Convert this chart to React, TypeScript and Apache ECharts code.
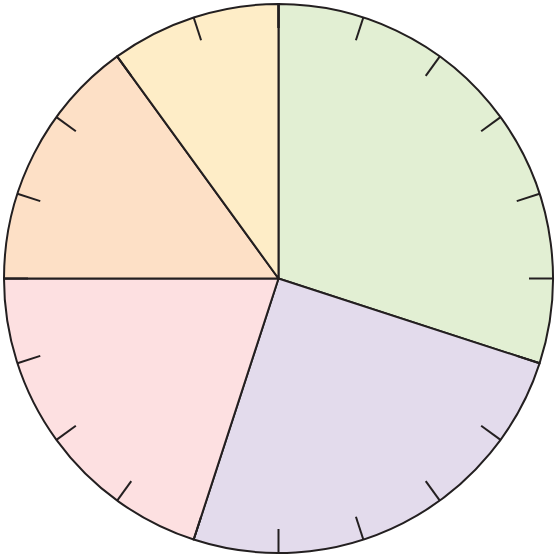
import React, { useEffect, useRef } from "react";
import * as echarts from "echarts";

const categories = ["A", "B", "C", "D", "E"];
const values = [30, 25, 20, 15, 10];
const colors = ["#E2EFD3", "#E3DBEC", "#FDE0E1", "#FDE0C6", "#FEEDC7"];
const tickCount = 20;

export default function App() {
  const ref = useRef<HTMLDivElement>(null);
  useEffect(() => {
    if (!ref.current) return;
    const chart = echarts.init(ref.current, undefined, { renderer: "svg" });
    chart.setOption({
      animation: false,
      backgroundColor: "#ffffff",
      series: [
        {
          type: "pie",
          center: [278.5, 278.5],
          radius: [0, 274.5],
          startAngle: 90,
          clockwise: true,
          label: { show: false },
          labelLine: { show: false },
          emphasis: { disabled: true },
          itemStyle: { borderColor: "#231F20", borderWidth: 2 },
          data: categories.map((c, i) => ({
            name: c,
            value: values[i],
            itemStyle: { color: colors[i] },
          })),
          z: 1,
        },
        {
          type: "gauge",
          center: [278.5, 278.5],
          radius: 274.5,
          startAngle: 90,
          endAngle: -270,
          min: 0,
          max: 100,
          splitNumber: tickCount,
          axisLine: { show: false, lineStyle: { width: 0 } },
          axisTick: { show: false },
          axisLabel: { show: false },
          pointer: { show: false },
          anchor: { show: false },
          title: { show: false },
          detail: { show: false },
          splitLine: {
            show: true,
            distance: 0,
            length: 24,
            lineStyle: { color: "#231F20", width: 2 },
          },
          data: [],
          z: 5,
        },
      ],
    });
    return () => chart.dispose();
  }, []);
  return (
    <div
      ref={ref}
      style={{ position: "fixed", left: 0, top: 0, width: 557, height: 557 }}
    />
  );
}
